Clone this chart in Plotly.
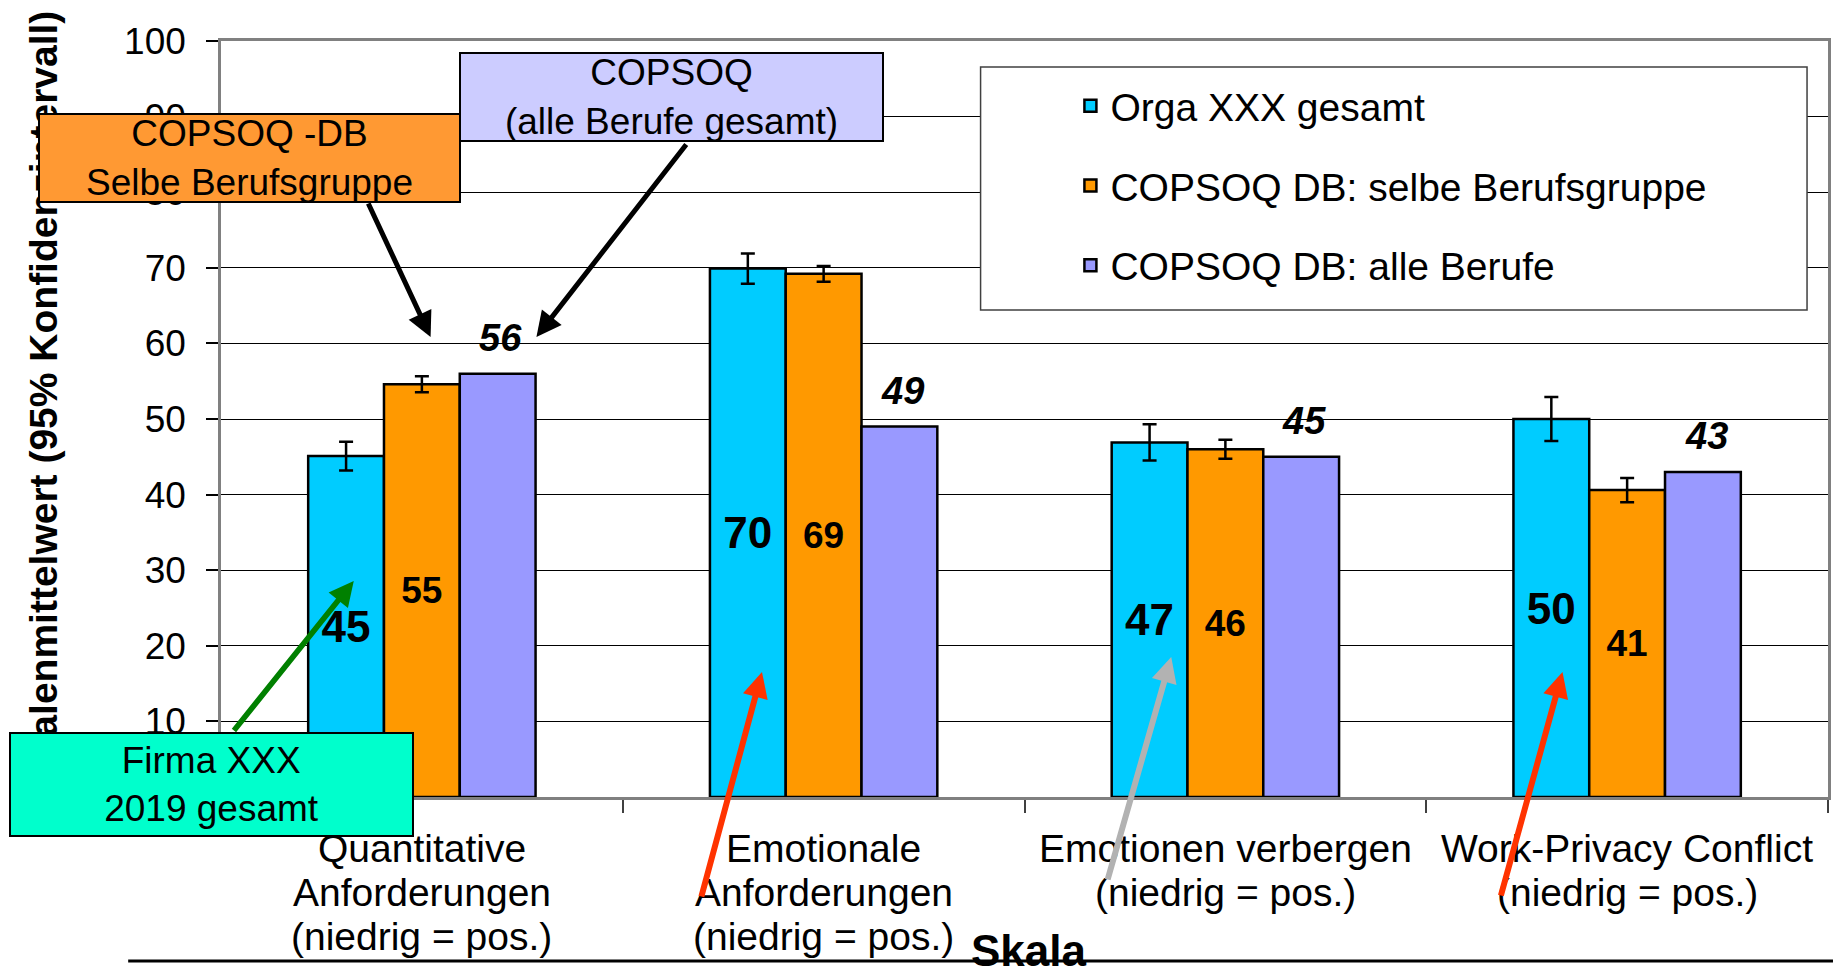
import plotly.graph_objects as go

# ---------------- data ----------------
categories = [
    "Quantitative<br>Anforderungen<br>(niedrig = pos.)",
    "Emotionale<br>Anforderungen<br>(niedrig = pos.)",
    "Emotionen verbergen<br>(niedrig = pos.)",
    "Work-Privacy Conflict<br>(niedrig = pos.)",
]
series_names = ["Orga XXX gesamt", "COPSOQ DB: selbe Berufsgruppe", "COPSOQ DB: alle Berufe"]
orga_values = [45.1, 69.9, 46.9, 50.0]
orga_ci = [1.9, 2.0, 2.4, 2.9]
same_job_values = [54.6, 69.2, 46.0, 40.6]
same_job_ci = [1.05, 1.05, 1.25, 1.6]
all_jobs_values = [56, 49, 45, 43]
y_ticks = [0, 10, 20, 30, 40, 50, 60, 70, 80, 90, 100]

y_title = "Skalenmittelwert (95% Konfidenzintervall)"
x_title = "Skala"

# ---------------- layout geometry ----------------
W_FIG, H_FIG = 1843, 968
L, R, T, B = 221, 1831, 41, 797
PW, PH = R - L, B - T
FONT = "Liberation Sans, Arial, sans-serif"

def px(x):
    return (x - L) / PW

def py(y):
    return (B - y) / PH

colors = ["#00CCFF", "#FF9900", "#9999FF"]

fig = go.Figure()

fig.add_trace(go.Bar(
    x=categories, y=orga_values, name=series_names[0], legendgroup="a",
    marker=dict(color=colors[0], line=dict(color="black", width=2.5)),
    error_y=dict(type="data", array=orga_ci, color="black", thickness=2.5, width=7),
    texttemplate="%{y:.0f}", textposition="inside", insidetextanchor="middle",
    textangle=0, constraintext="none",
    textfont=dict(family=FONT, size=44, color="black", weight="bold"),
))
fig.add_trace(go.Bar(
    x=categories, y=same_job_values, name=series_names[1], legendgroup="b",
    marker=dict(color=colors[1], line=dict(color="black", width=2.5)),
    error_y=dict(type="data", array=same_job_ci, color="black", thickness=2.5, width=7),
    texttemplate="%{y:.0f}", textposition="inside", insidetextanchor="middle",
    textangle=0, constraintext="none",
    textfont=dict(family=FONT, size=37, color="black", weight="bold"),
))
fig.add_trace(go.Bar(
    x=categories, y=all_jobs_values, name=series_names[2], legendgroup="c",
    marker=dict(color=colors[2], line=dict(color="black", width=2.5)),
    textposition="none",
))

annotations = []

# purple value labels above bars (bold italic)
bar_w = PW / 4 * (1 - 0.434) / 3
for c, v in zip(categories, all_jobs_values):
    annotations.append(dict(
        x=c, y=v, xref="x", yref="y", text=f"<b><i>{v:.0f}</i></b>",
        showarrow=False, xanchor="center", yanchor="bottom",
        xshift=bar_w + 3, yshift=13,
        font=dict(family=FONT, size=38, color="black"),
    ))

# category labels, line by line
line_y = [848.5, 892.5, 936.5]
for c in categories:
    for i, line in enumerate(c.split("<br>")):
        annotations.append(dict(
            x=c, y=py(line_y[i]), xref="x", yref="paper", text=line,
            showarrow=False, xanchor="center", yanchor="middle",
            font=dict(family=FONT, size=39, color="black"),
        ))

# axis titles
annotations.append(dict(
    x=px(43), y=py(397), xref="paper", yref="paper", text=f"<b>{y_title}</b>",
    textangle=-90, showarrow=False, xanchor="center", yanchor="middle",
    font=dict(family=FONT, size=39, color="black"),
))
annotations.append(dict(
    x=px(1031), y=py(950), xref="paper", yref="paper", text=f"<b>{x_title}</b>",
    showarrow=False, xanchor="center", yanchor="middle",
    font=dict(family=FONT, size=44, color="black"),
))

# arrows: (tip_x, tip_y, tail_x, tail_y, color, width, size)
arrows = [
    (431, 337, 368, 202, "black", 5, 1.0),
    (537, 337, 688, 143, "black", 5, 1.0),
    (354, 581, 233, 732, "#008000", 5.5, 0.9),
    (763, 672, 702, 898, "#FF3300", 6, 0.85),
    (1173, 657, 1109, 881, "#B2B2B2", 6, 0.85),
    (1565, 672, 1503, 897, "#FF3300", 6, 0.85),
]
for tx, ty, sx, sy, col, w, s in arrows:
    annotations.append(dict(
        x=px(tx), y=py(ty), xref="paper", yref="paper", text="",
        showarrow=True, ax=sx - tx, ay=sy - ty, axref="pixel", ayref="pixel",
        arrowhead=2, arrowsize=s, arrowwidth=w, arrowcolor=col,
        standoff=0, startstandoff=0,
    ))

# callout boxes: (text, cx, cy, w, h, bg)
boxes = [
    ("COPSOQ -DB<br>Selbe Berufsgruppe", 249.5, 158, 423, 90, "#FF9933"),
    ("COPSOQ<br>(alle Berufe gesamt)", 672.5, 97, 425, 90, "#CCCCFF"),
    ("Firma XXX<br>2019 gesamt", 211.5, 784.5, 405, 105, "#00FFCC"),
]
for txt, cx, cy, w, h, bg in boxes:
    annotations.append(dict(
        x=px(cx), y=py(cy), xref="paper", yref="paper", text=txt,
        showarrow=False, xanchor="center", yanchor="middle",
        width=w - 4, height=h - 4, borderpad=0, borderwidth=2,
        bordercolor="black", bgcolor=bg, align="center", valign="middle",
        font=dict(family=FONT, size=37, color="black"),
    ))

shapes = [
    # legend frame
    dict(type="rect", xref="paper", yref="paper",
         x0=px(982), x1=px(1810), y0=py(67), y1=py(310),
         line=dict(color="#404040", width=1.5), fillcolor="white", layer="above"),
    # bottom rule
    dict(type="line", xref="paper", yref="paper",
         x0=px(128), x1=px(1836), y0=py(961), y1=py(961),
         line=dict(color="black", width=3), layer="above"),
]

fig.update_layout(
    width=W_FIG, height=H_FIG,
    margin=dict(l=L, r=W_FIG - R, t=T, b=H_FIG - B, pad=0),
    paper_bgcolor="white", plot_bgcolor="white",
    barmode="group", bargap=0.434, bargroupgap=0,
    font=dict(family=FONT, color="black"),
    showlegend=True,
    legend=dict(
        x=px(1072), y=py(74), xanchor="left", yanchor="top",
        xref="paper", yref="paper",
        bgcolor="rgba(0,0,0,0)", borderwidth=0,
        font=dict(family=FONT, size=39, color="black"),
        tracegroupgap=26, traceorder="grouped",
    ),
    annotations=annotations,
    shapes=shapes,
)

fig.update_xaxes(
    type="category", range=[-0.5, 3.5], showticklabels=False,
    ticks="outside", tickson="boundaries", ticklen=13, tickwidth=1.5, tickcolor="#404040",
    showline=True, linecolor="#808080", linewidth=2.5, mirror=True,
    showgrid=False, zeroline=False,
)
fig.update_yaxes(
    range=[0, 100], tickvals=y_ticks, ticktext=[str(t) for t in y_ticks],
    ticks="outside", ticklen=12, tickwidth=1.5, tickcolor="black",
    tickfont=dict(family=FONT, size=37, color="black"), ticklabelstandoff=13,
    showline=True, linecolor="#808080", linewidth=2.5, mirror=True,
    showgrid=True, gridcolor="black", gridwidth=1.2, zeroline=False,
)

fig.write_html(
    "out.html",
    config={"displayModeBar": False},
    post_script="document.body.style.margin='0px';document.body.style.overflow='hidden';",
)
